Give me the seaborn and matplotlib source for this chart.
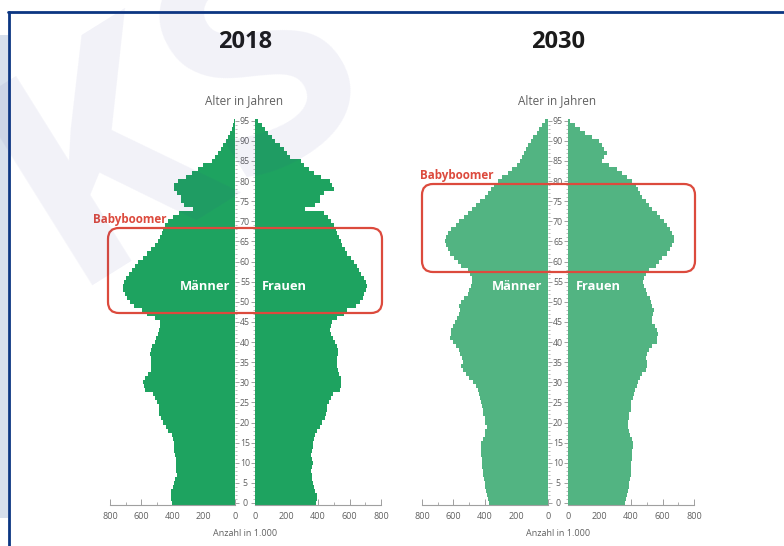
import numpy as np
import pandas as pd
import matplotlib.pyplot as plt
import seaborn as sns
from matplotlib.patches import FancyBboxPatch, Rectangle
from matplotlib.lines import Line2D

# Bevoelkerung nach Alter, Anzahl in 1.000 (Alter 0 .. 95)
ages = list(range(96))

maenner_2018 = [405, 412, 412, 408, 400, 392, 386, 372, 375, 380,
                380, 378, 382, 390, 392, 393, 395, 405, 427, 441,
                459, 474, 486, 486, 486, 501, 512, 527, 576, 580,
                587, 576, 555, 540, 538, 540, 538, 544, 538, 533,
                512, 506, 491, 484, 480, 480, 512, 565, 597, 645,
                674, 693, 704, 715, 715, 709, 695, 680, 661, 640,
                619, 592, 565, 535, 512, 496, 483, 470, 458, 445,
                427, 395, 360, 272, 325, 343, 345, 370, 390, 388,
                365, 315, 275, 240, 205, 150, 130, 110, 90, 75,
                60, 45, 32, 22, 12, 6]
frauen_2018 = [390, 395, 395, 384, 373, 367, 363, 363, 358, 363,
               367, 363, 358, 363, 367, 369, 373, 384, 395, 412,
               427, 444, 448, 454, 459, 469, 480, 497, 540, 544,
               548, 544, 533, 527, 518, 518, 523, 527, 529, 518,
               506, 497, 484, 476, 480, 491, 523, 565, 587, 640,
               668, 683, 693, 704, 708, 704, 689, 676, 661, 646,
               629, 608, 587, 570, 555, 544, 533, 523, 512, 501,
               480, 463, 437, 320, 378, 412, 412, 437, 501, 491,
               476, 416, 373, 341, 309, 292, 224, 203, 181, 160,
               130, 107, 85, 64, 43, 20]
maenner_2030 = [375, 382, 386, 392, 397, 401, 405, 410, 414, 418,
                420, 422, 424, 424, 424, 424, 410, 403, 397, 388,
                397, 403, 410, 414, 420, 424, 429, 435, 446, 456,
                474, 499, 520, 542, 552, 542, 546, 557, 563, 584,
                606, 621, 616, 616, 606, 589, 580, 563, 559, 563,
                552, 531, 510, 499, 488, 482, 484, 493, 510, 552,
                574, 595, 623, 638, 648, 653, 648, 638, 616, 584,
                563, 531, 510, 482, 456, 429, 403, 382, 360, 346,
                318, 290, 254, 226, 200, 175, 162, 154, 137, 126,
                109, 94, 73, 55, 40, 20]
frauen_2030 = [365, 371, 375, 382, 386, 390, 392, 397, 397, 401,
               403, 407, 407, 407, 412, 412, 407, 392, 386, 382,
               382, 386, 390, 397, 397, 403, 412, 418, 424, 435,
               446, 456, 471, 493, 503, 503, 497, 503, 514, 535,
               563, 567, 572, 567, 550, 535, 535, 540, 546, 535,
               529, 520, 503, 493, 482, 476, 482, 493, 514, 557,
               578, 599, 631, 648, 663, 670, 674, 663, 648, 631,
               610, 584, 563, 535, 514, 493, 471, 456, 444, 429,
               407, 375, 343, 311, 258, 215, 230, 250, 230, 215,
               194, 151, 109, 77, 45, 15]

x_ticks = [0, 200, 400, 600, 800]
age_ticks = list(range(0, 96, 5))

GREEN_2018 = '#1ea360'
GREEN_2030 = '#52b482'
RED = '#dc4a3d'
GREY = '#606060'
TICK = '#a0a0a0'

sns.set_theme(style='white')
plt.rcParams['font.family'] = ['Open Sans', 'DejaVu Sans']

W, H = 784, 546
fig = plt.figure(figsize=(W / 100, H / 100), dpi=100)


def px(x, y):
    # pixel position (from top left) -> figure fraction
    return x / W, 1 - y / H


def half(x0, x1, values, color, men):
    # age axis: -0.5 sits at y=505 px, 96 at y=116.7 px
    ax = fig.add_axes([x0 / W, (H - 505) / H, (x1 - x0) / W, 388.3 / H])
    ax.set_facecolor('none')
    sns.barplot(x=values, y=ages, orient='h', native_scale=True, width=1,
                color=color, saturation=1, errorbar=None,
                linewidth=0, antialiased=False, ax=ax)
    ax.set_xlim((800, 0) if men else (0, 800))
    ax.set_ylim(-0.5, 96)
    ax.set_xlabel('')
    ax.set_ylabel('')
    for s in ['top', 'left', 'right']:
        ax.spines[s].set_visible(False)
    ax.spines['bottom'].set_color(TICK)
    ax.spines['bottom'].set_linewidth(0.8)

    ax.set_xticks(x_ticks)
    ax.set_xticks(range(100, 800, 200), minor=True)
    ax.tick_params(axis='x', which='both', bottom=True, direction='in',
                   color=TICK, labelcolor=GREY, labelsize=6.5, pad=5)
    ax.tick_params(axis='x', which='major', length=4, width=0.7)
    ax.tick_params(axis='x', which='minor', length=2.5, width=0.6)

    ax.set_yticks(age_ticks)
    ax.set_yticks(ages, minor=True)
    if men:
        ax.yaxis.tick_right()
        ax.tick_params(axis='y', which='both', right=True, left=False,
                       labelright=False, direction='out', color=TICK)
    else:
        ax.tick_params(axis='y', which='both', left=True, direction='out',
                       color=TICK, labelcolor=GREY, labelsize=6.3, pad=4.2)
        plt.setp(ax.get_yticklabels(), ha='center')
    ax.tick_params(axis='y', which='major', length=3, width=0.7)
    ax.tick_params(axis='y', which='minor', length=1.5, width=0.5)
    return ax


half(110, 235, maenner_2018, GREEN_2018, True)
half(255, 381, frauen_2018, GREEN_2018, False)
half(422, 548, maenner_2030, GREEN_2030, True)
half(568, 694, frauen_2030, GREEN_2030, False)

# headings and axis captions
for cx, year in [(245, '2018'), (558, '2030')]:
    fig.text(*px(cx, 42), year, ha='center', va='center', fontsize=17,
             weight='bold', color='#1b1b1b')
    fig.text(*px(cx - 1, 101), 'Alter in Jahren', ha='center', va='center',
             fontsize=8.5, weight='medium', color=GREY)
    fig.text(*px(cx, 533), 'Anzahl in 1.000', ha='center', va='center',
             fontsize=6.5, color=GREY)

# Männer / Frauen labels inside the bars
for xm, xf in [(230, 262), (542, 576)]:
    fig.text(*px(xm, 287), 'Männer', ha='right', va='center', fontsize=9.3,
             weight='bold', color='white')
    fig.text(*px(xf, 287), 'Frauen', ha='left', va='center', fontsize=9.3,
             weight='bold', color='white')

# Babyboomer highlight
for (x0, y0, x1, y1), (tx, ty) in [((108, 228, 382, 313), (167, 219)),
                                   ((422, 184, 695, 272), (494, 176))]:
    box = FancyBboxPatch((x0 / 100, (H - y1) / 100), (x1 - x0) / 100,
                         (y1 - y0) / 100,
                         boxstyle='round,pad=0,rounding_size=0.11',
                         transform=fig.dpi_scale_trans, fill=False,
                         edgecolor=RED, linewidth=1.6, zorder=5)
    fig.add_artist(box)
    fig.text(*px(tx, ty), 'Babyboomer', ha='right', va='center',
             fontsize=8.4, weight='bold', color=RED)

# frame and left strip
fig.add_artist(Rectangle((0, (H - 518) / H), 8 / W, (518 - 35) / H,
                         transform=fig.transFigure, color='#d6dfec', lw=0))
fig.add_artist(Line2D([8 / W, 1], [1 - 12 / H] * 2, transform=fig.transFigure,
                      color='#0b3682', lw=2))
fig.add_artist(Line2D([9 / W] * 2, [0, 1 - 12 / H], transform=fig.transFigure,
                      color='#0b3682', lw=2))

# faint watermark
fig.text(*px(180, 120), 'KS', ha='center', va='center', rotation=32,
         rotation_mode='anchor', fontsize=220, weight='bold',
         color='#3d3d99', alpha=0.065, zorder=10)

fig.savefig('out.png', dpi=100)
